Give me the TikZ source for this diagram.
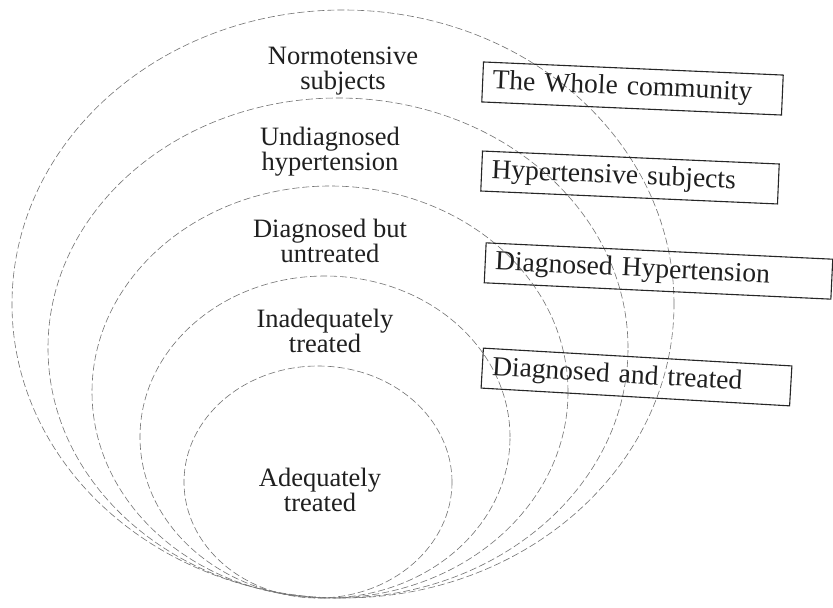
\documentclass[tikz,border=0pt]{standalone}
\usepackage{fontspec}
\setmainfont{Liberation Serif}
\begin{document}
\begin{tikzpicture}[x=1pt,y=-1pt,
  ring/.style={draw=black!55, line width=0.6pt, dash pattern=on 7pt off 3pt},
  lbl/.style={align=center, font=\fontsize{26.5}{25}\selectfont, text=black!88, inner sep=0pt},
  boxlbl/.style={draw=black!85, line width=1.1pt, font=\fontsize{27.5}{30}\selectfont, text=black!88,
     align=left, minimum height=40pt, inner xsep=10pt, inner ysep=0pt}]
\useasboundingbox (0,0) rectangle (833,608);
\fill[white] (0,0) rectangle (833,608);
% nested rings
\draw[ring] (343,304) ellipse [x radius=331pt, y radius=294pt];
\draw[ring] (338,348) ellipse [x radius=290pt, y radius=250pt];
\draw[ring] (330,392) ellipse [x radius=238pt, y radius=206pt];
\draw[ring] (325,437) ellipse [x radius=185pt, y radius=161pt];
\draw[ring] (318,482) ellipse [x radius=134pt, y radius=116pt];
% ring labels
\node[lbl] (normo) at (343,71) {Normotensive\\subjects};
\node[lbl] (undiag) at (330,152) {Undiagnosed\\hypertension};
\node[lbl] (diagbut) at (330,241) {Diagnosed but\\untreated};
\node[lbl] (inadeq) at (325,331) {Inadequately\\treated};
\node[lbl] (adeq) at (320,490) {Adequately\\treated};
% boxes
\node[boxlbl, text width=280pt, rotate=-2.5] (whole) at (632.5,88.5) {The Whole community};
\node[boxlbl, text width=277pt, rotate=-2.5] (hyper) at (630,177.5) {Hypertensive subjects};
\node[boxlbl, text width=327pt, rotate=-2.7] (diaghyp) at (658.5,271) {Diagnosed Hypertension};
\node[boxlbl, text width=289pt, rotate=-3.3] (diagtr) at (636.5,377) {Diagnosed and treated};
\end{tikzpicture}
\end{document}
